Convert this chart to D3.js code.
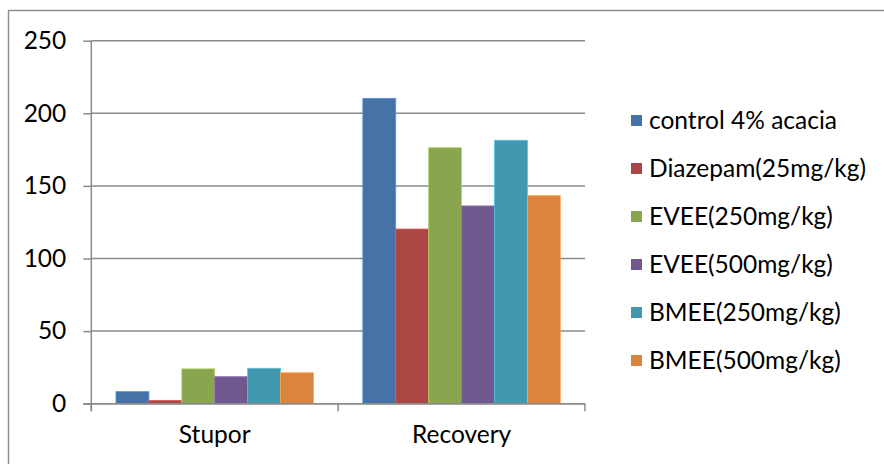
<!DOCTYPE html>
<html>
<head>
<meta charset="utf-8">
<script src="https://cdn.jsdelivr.net/npm/d3@7"></script>
<style>
  html, body { margin: 0; padding: 0; background: #fff; }
  svg { display: block; }
</style>
</head>
<body>
<svg id="chart" width="884" height="464"></svg>
<script>
// Categories along the x axis
const categories = ["Stupor", "Recovery"];

// Treatment groups (legend order)
const seriesNames = [
  "control 4% acacia",
  "Diazepam(25mg/kg)",
  "EVEE(250mg/kg)",
  "EVEE(500mg/kg)",
  "BMEE(250mg/kg)",
  "BMEE(500mg/kg)"
];

// Values per category, one per treatment group
const stuporValues   = [8.3, 2.3, 24, 18.6, 24.4, 21.3];
const recoveryValues = [210.3, 120.3, 176.3, 136.2, 181.4, 143.3];

// Y axis ticks
const yTicks = [0, 50, 100, 150, 200, 250];

const colors = ["#4572A7", "#AA4643", "#89A54E", "#71588F", "#4198AF", "#DB843D"];

const valuesByCategory = { "Stupor": stuporValues, "Recovery": recoveryValues };
const data = categories.map(c => ({
  category: c,
  values: seriesNames.map((s, i) => ({ series: s, value: valuesByCategory[c][i], i }))
}));

const svg = d3.select("#chart");
const fontFamily = "Lato, 'Open Sans', sans-serif";

// Size the text so the widest legend label spans the same width as the Excel font
const probe = svg.append("text").attr("font-family", fontFamily).attr("font-size", 100)
  .text("control 4% acacia");
const probeW = probe.node().getComputedTextLength();
probe.remove();
const fontSize = 100 * 188 / probeW;

const plot = { left: 91.3, right: 585, top: 40.7, bottom: 403.7 };
const gridColor = "#8a8a8a";

// Outer chart border
svg.append("rect")
  .attr("x", 8.5).attr("y", 10.5)
  .attr("width", 900).attr("height", 500)
  .attr("fill", "none").attr("stroke", gridColor).attr("stroke-width", 1.4);

const x0 = d3.scaleBand().domain(categories).range([plot.left, plot.right])
  .paddingInner(0).paddingOuter(0);
const x1 = d3.scaleBand().domain(d3.range(seriesNames.length)).range([0, x0.bandwidth()])
  .paddingInner(0).paddingOuter(0.75);
const y = d3.scaleLinear().domain([0, 250]).range([plot.bottom, plot.top]);

// Horizontal gridlines
svg.append("g").selectAll("line").data(yTicks).join("line")
  .attr("x1", plot.left).attr("x2", plot.right)
  .attr("y1", d => y(d)).attr("y2", d => y(d))
  .attr("stroke", gridColor).attr("stroke-width", 1.5);

// Y axis with outward ticks
const yAxis = svg.append("g")
  .attr("transform", `translate(${plot.left},0)`)
  .call(d3.axisLeft(y).tickValues(yTicks).tickSize(8).tickPadding(17).tickFormat(d3.format("d")));
yAxis.select(".domain").remove();
yAxis.selectAll(".tick line").attr("stroke", gridColor).attr("stroke-width", 1.5);
yAxis.selectAll(".tick text")
  .attr("font-family", fontFamily).attr("font-size", fontSize).attr("fill", "#000");

// Bars
const groups = svg.append("g").selectAll("g").data(data).join("g")
  .attr("transform", d => `translate(${x0(d.category)},0)`);
groups.selectAll("rect").data(d => d.values).join("rect")
  .attr("x", d => x1(d.i))
  .attr("width", x1.bandwidth())
  .attr("y", d => y(d.value))
  .attr("height", d => y(0) - y(d.value))
  .attr("fill", d => colors[d.i])
  .attr("stroke", d => d3.color(colors[d.i]).brighter(0.7))
  .attr("stroke-width", 0.8);

// Y axis line
svg.append("line")
  .attr("x1", plot.left).attr("x2", plot.left)
  .attr("y1", plot.top).attr("y2", plot.bottom + 7.5)
  .attr("stroke", gridColor).attr("stroke-width", 1.5);

// X axis line and category boundary ticks
svg.append("line")
  .attr("x1", plot.left - 8).attr("x2", plot.right)
  .attr("y1", plot.bottom).attr("y2", plot.bottom)
  .attr("stroke", gridColor).attr("stroke-width", 1.5);
const boundaries = [x0.range()[0]].concat(categories.map(c => x0(c) + x0.bandwidth()));
svg.append("g").selectAll("line").data(boundaries).join("line")
  .attr("x1", d => d).attr("x2", d => d)
  .attr("y1", plot.bottom).attr("y2", plot.bottom + 7.5)
  .attr("stroke", gridColor).attr("stroke-width", 1.5);

// Category labels
const xAxis = svg.append("g")
  .attr("transform", `translate(0,${plot.bottom})`)
  .call(d3.axisBottom(x0).tickSize(0).tickPadding(22));
xAxis.select(".domain").remove();
xAxis.selectAll(".tick text")
  .attr("font-family", fontFamily).attr("font-size", fontSize).attr("fill", "#000");

// Legend
const legendTop = 120.5, legendStep = 48;
const legend = svg.append("g").selectAll("g").data(seriesNames).join("g")
  .attr("transform", (d, i) => `translate(631,${legendTop + i * legendStep})`);
legend.append("rect")
  .attr("x", 0).attr("y", -5.5).attr("width", 11).attr("height", 11)
  .attr("fill", (d, i) => colors[i]);
legend.append("text")
  .attr("x", 18).attr("dy", "0.35em")
  .attr("font-family", fontFamily).attr("font-size", fontSize).attr("fill", "#000")
  .text(d => d);
</script>
</body>
</html>
